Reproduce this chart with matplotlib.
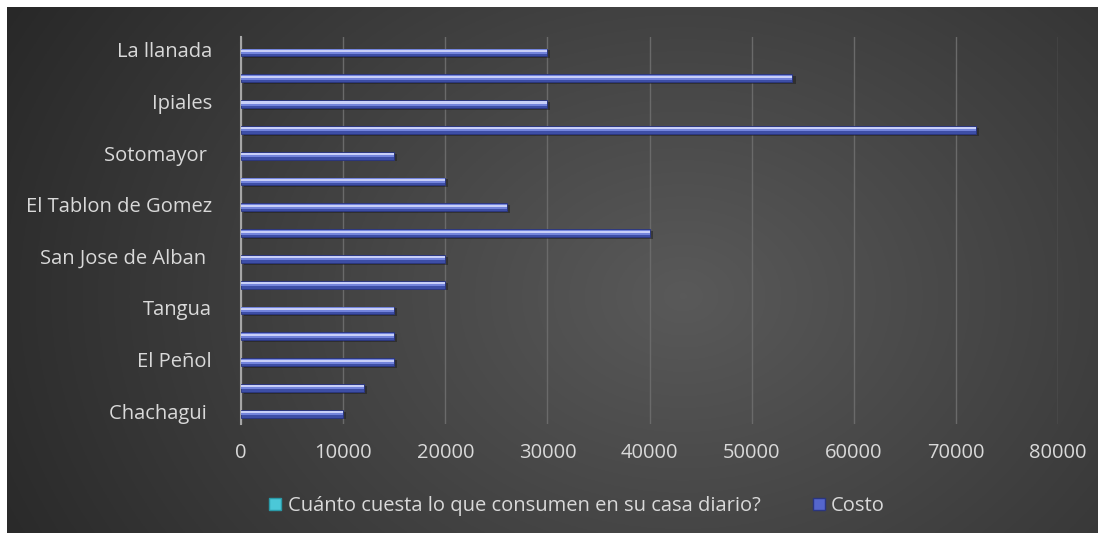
import matplotlib
matplotlib.use("Agg")
import matplotlib.pyplot as plt
from matplotlib.patches import Patch
import numpy as np

# data, bottom -> top (every other label hidden in the original)
categories = ["Chachagui ", "", "El Peñol", "", "Tangua", "", "San Jose de Alban ", "",
              "El Tablon de Gomez", "", "Sotomayor ", "", "Ipiales", "", "La llanada"]
cuanto_cuesta = [0, 0, 0, 0, 0, 0, 0, 0, 0, 0, 0, 0, 0, 0, 0]
costo = [10000, 12000, 15000, 15000, 15000, 20000, 20000, 40000,
         26000, 20000, 15000, 72000, 30000, 54000, 30000]
series_names = ["Cuánto cuesta lo que consumen en su casa diario?", "Costo"]
xticks = [0, 10000, 20000, 30000, 40000, 50000, 60000, 70000, 80000]

plt.rcParams['font.family'] = ['Open Sans', 'DejaVu Sans']
txt = '#d9d9d9'

fig = plt.figure(figsize=(11.05, 5.40), dpi=100)
fig.patch.set_facecolor('white')

# dark radial background
bg = fig.add_axes([7 / 1105, 7 / 540, 1 - 14 / 1105, 1 - 14 / 540])
yy, xx = np.mgrid[0:1:300j, 0:1:600j]
r = np.sqrt(((xx - 0.62) * 1.6) ** 2 + ((yy - 0.55) * 1.0) ** 2)
shade = np.clip(0.35 - 0.17 * r, 0.14, 0.35)
bg.imshow(np.dstack([shade, shade, shade]), aspect='auto', extent=[0, 1, 0, 1])
bg.axis('off')

ax = fig.add_axes([241 / 1105, 1 - 424 / 540, (1058 - 241) / 1105, (424 - 37) / 540])
ax.patch.set_alpha(0)
y = np.arange(len(categories))

# second series sits above the blue one (all zero)
ax.barh(y + 0.2, cuanto_cuesta, height=0.3, color='#4bc8d8', zorder=3)
# shadow, body, highlight for the blue bars
ax.barh(y - 0.17, costo, height=0.3, left=300, color='#1c1c1c', alpha=0.5, zorder=2)
ax.barh(y - 0.1, costo, height=0.3, color='#3d4ea6', edgecolor='#2a3580', linewidth=0.6, zorder=3)
ax.barh(y - 0.07, costo, height=0.18, color='#7384dc', zorder=4)
ax.barh(y - 0.04, costo, height=0.08, color='#c8cff8', zorder=5)

ax.set_xlim(0, 80000)
ax.set_ylim(-0.5, len(categories) - 0.5)
ax.set_xticks(xticks)
ax.set_xticklabels([str(v) for v in xticks])
ax.set_yticks(y)
ax.set_yticklabels(categories)
ax.tick_params(axis='both', length=0, labelsize=14.5, labelcolor=txt)
ax.tick_params(axis='y', pad=21)
ax.tick_params(axis='x', pad=14)
ax.grid(axis='x', color='#6a6a6a', linewidth=1, zorder=0)
ax.set_axisbelow(True)
for s in ['top', 'right', 'bottom']:
    ax.spines[s].set_visible(False)
ax.spines['left'].set_color('#a6a6a6')
ax.spines['left'].set_linewidth(1.5)

handles = [Patch(facecolor='#4bc8d8', edgecolor='#2a9aa8'),
           Patch(facecolor='#5566cc', edgecolor='#2a3580')]
fig.legend(handles, series_names, loc='center', bbox_to_anchor=(577 / 1105, 1 - 506 / 540),
           ncol=2, frameon=False, fontsize=14.5, labelcolor=txt, handlelength=0.6,
           handleheight=0.6, handletextpad=0.3, columnspacing=2.6)

fig.savefig('out.png', dpi=100, facecolor=fig.get_facecolor())
